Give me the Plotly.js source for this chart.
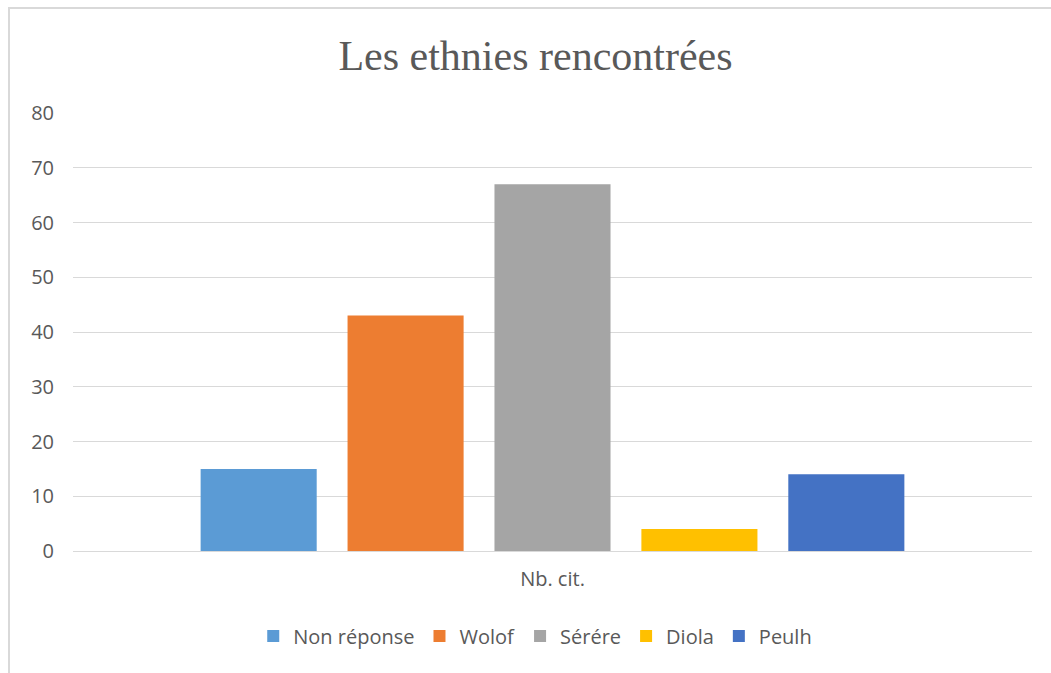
<!DOCTYPE html>
<html>
<head>
<meta charset="utf-8">
<script src="https://cdn.plot.ly/plotly-3.0.1.min.js"></script>
<style>
  html, body { margin: 0; padding: 0; background: #fff; }
  #wrap { position: relative; width: 1051px; height: 673px; }
  #chart { width: 1051px; height: 673px; }
  #frame { position: absolute; left: 8px; top: 7px; right: 0; bottom: 0;
           border-left: 2px solid #d9d9d9; border-top: 2px solid #d9d9d9;
           pointer-events: none; }
</style>
</head>
<body>
<div id="wrap">
  <div id="chart"></div>
  <div id="frame"></div>
</div>
<script>
const categories = ["Nb. cit."];
const seriesNames = ["Non réponse", "Wolof", "Sérére", "Diola", "Peulh"];
const seriesValues = [[15], [43], [67], [4], [14]];
const seriesColors = ["#5b9bd5", "#ed7d31", "#a5a5a5", "#ffc000", "#4472c4"];
const yTicks = [0, 10, 20, 30, 40, 50, 60, 70, 80];

const traces = seriesNames.map((name, i) => ({
  type: "bar",
  name: name,
  x: categories,
  y: seriesValues[i],
  marker: { color: seriesColors[i], line: { width: 0 } },
  hoverinfo: "name+y"
}));

const sansFont = "Open Sans, Lato, sans-serif";

const layout = {
  width: 1051,
  height: 673,
  paper_bgcolor: "#ffffff",
  plot_bgcolor: "#ffffff",
  margin: { l: 73, r: 19, t: 113, b: 122, pad: 0 },
  barmode: "group",
  bargap: 0.234,
  bargroupgap: 0.21,
  title: {
    text: "Les ethnies rencontrées",
    font: { family: "Liberation Serif, Times New Roman, serif", size: 42, color: "#595959" },
    x: 535.5 / 1051, xanchor: "center", xref: "container",
    y: 1 - 55 / 673, yanchor: "middle", yref: "container"
  },
  xaxis: {
    type: "category",
    showgrid: false,
    showline: false,
    zeroline: false,
    ticks: "",
    tickfont: { family: sansFont, size: 20, color: "#595959" },
    ticklabelstandoff: 14
  },
  yaxis: {
    range: [0, 80],
    tickvals: yTicks,
    ticktext: yTicks.map(String),
    showgrid: true,
    gridcolor: "#d9d9d9",
    gridwidth: 1,
    zeroline: true,
    zerolinecolor: "#d9d9d9",
    zerolinewidth: 1,
    showline: false,
    ticks: "",
    tickfont: { family: sansFont, size: 20, color: "#595959" },
    ticklabelstandoff: 18
  },
  legend: {
    orientation: "h",
    x: 0.482, xanchor: "center",
    y: (551 - 636) / 438, yanchor: "middle",
    font: { family: sansFont, size: 20, color: "#595959" },
    traceorder: "normal"
  },
  showlegend: true
};

Plotly.newPlot("chart", traces, layout, { displayModeBar: false, staticPlot: true });
</script>
</body>
</html>
